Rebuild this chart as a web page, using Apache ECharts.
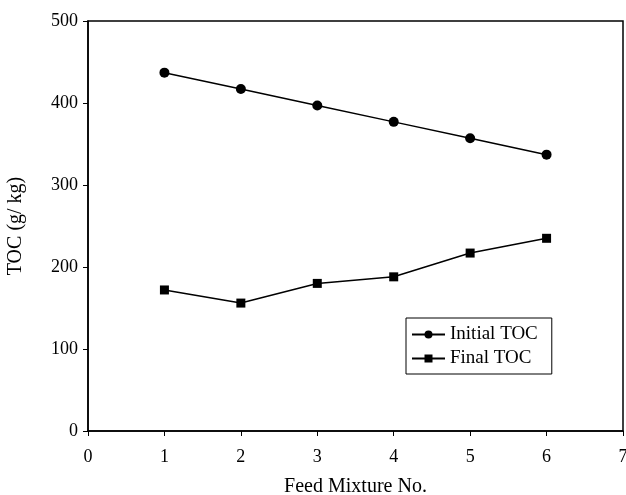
<!DOCTYPE html>
<html>
<head>
<meta charset="utf-8">
<script src="https://cdn.jsdelivr.net/npm/echarts@6/dist/echarts.min.js"></script>
<style>
  html, body { margin: 0; padding: 0; background: #fff; }
  #chart { width: 626px; height: 495px; }
</style>
</head>
<body>
<div id="chart"></div>
<script>
const feedMixture = [1, 2, 3, 4, 5, 6];
const initialToc = [437, 417, 397, 377, 357, 337];
const finalToc = [172, 156, 180, 188, 217, 235];

const FONT = "Liberation Serif";

function pairs(xs, ys) {
  return xs.map((x, i) => [x, ys[i]]);
}

const chart = echarts.init(document.getElementById("chart"));

chart.setOption({
  animation: false,
  backgroundColor: "#fff",
  textStyle: {
    fontFamily: FONT,
    color: "#000",
  },
  grid: {
    left: 88,
    right: 3,
    top: 21,
    bottom: 64,
    outerBoundsMode: "none",
    show: true,
    borderColor: "#000",
    borderWidth: 1.5,
  },
  legend: {
    orient: "vertical",
    left: 406,
    top: 318,
    backgroundColor: "#fff",
    borderColor: "#000",
    borderWidth: 1,
    padding: [7, 14, 6, 5],
    itemGap: 5,
    itemWidth: 33,
    itemHeight: 10,
    textStyle: {
      fontFamily: FONT,
      fontSize: 19,
      color: "#000",
    },
    data: ["Initial TOC", "Final TOC"],
  },
  xAxis: {
    type: "value",
    min: 0,
    max: 7,
    interval: 1,
    name: "Feed Mixture No.",
    nameLocation: "middle",
    nameGap: 46,
    nameTextStyle: {
      fontFamily: FONT,
      fontSize: 20,
      color: "#000",
    },
    axisLine: {
      lineStyle: { color: "#000", width: 1.5 },
    },
    axisTick: {
      show: true,
      length: 5,
      lineStyle: { color: "#000" },
    },
    axisLabel: {
      fontFamily: FONT,
      fontSize: 18,
      color: "#000",
      margin: 17,
    },
    splitLine: { show: false },
  },
  yAxis: {
    type: "value",
    min: 0,
    max: 500,
    interval: 100,
    name: "TOC (g/ kg)",
    nameLocation: "middle",
    nameGap: 62,
    nameTextStyle: {
      fontFamily: FONT,
      fontSize: 20,
      color: "#000",
    },
    axisLine: {
      show: true,
      lineStyle: { color: "#000", width: 1.5 },
    },
    axisTick: {
      show: true,
      length: 5,
      lineStyle: { color: "#000" },
    },
    axisLabel: {
      fontFamily: FONT,
      fontSize: 18,
      color: "#000",
      margin: 10,
    },
    splitLine: { show: false },
  },
  series: [
    {
      name: "Initial TOC",
      type: "line",
      symbol: "circle",
      symbolSize: 10,
      color: "#000",
      lineStyle: { color: "#000", width: 1.5 },
      itemStyle: { color: "#000" },
      data: pairs(feedMixture, initialToc),
    },
    {
      name: "Final TOC",
      type: "line",
      symbol: "rect",
      symbolSize: 9,
      color: "#000",
      lineStyle: { color: "#000", width: 1.5 },
      itemStyle: { color: "#000" },
      data: pairs(feedMixture, finalToc),
    },
  ],
});
</script>
</body>
</html>
